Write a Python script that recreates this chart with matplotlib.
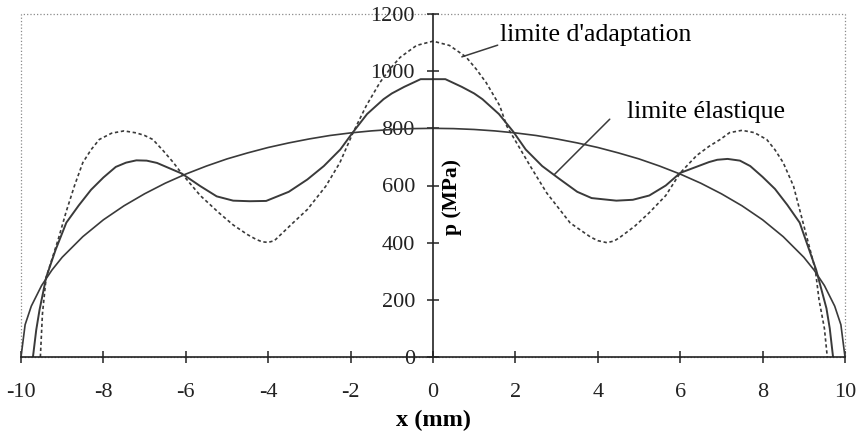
import numpy as np
import matplotlib.pyplot as plt
from matplotlib.patches import Rectangle

plt.rcParams['font.family'] = ['Liberation Serif', 'DejaVu Serif']
plt.rcParams['axes.unicode_minus'] = False

# Hertz pressure (smooth curve, no label)
hertz_x = [-10, -9.9, -9.75, -9.5, -9.25, -9, -8.5, -8, -7.5, -7, -6.5, -6, -5.5, -5,
           -4.5, -4, -3.5, -3, -2.5, -2, -1.5, -1, -0.5, 0, 0.5, 1, 1.5, 2, 2.5, 3,
           3.5, 4, 4.5, 5, 5.5, 6, 6.5, 7, 7.5, 8, 8.5, 9, 9.25, 9.5, 9.75, 9.9, 10]
hertz_p = [0, 113, 178, 250, 304, 349, 421, 480, 529, 571, 608, 640, 668, 693,
           714, 733, 749, 763, 775, 784, 791, 796, 799, 800, 799, 796, 791, 784, 775, 763,
           749, 733, 714, 693, 668, 640, 608, 571, 529, 480, 421, 349, 304, 250, 178, 113, 0]

# limite elastique (solid wavy)
elas_x = [-9.71, -9.63, -9.55, -9.39, -9.16, -8.9, -8.6, -8.3, -8.0, -7.7, -7.45, -7.2,
          -6.95, -6.7, -6.1, -5.65, -5.25, -4.85, -4.45, -4.05, -3.5, -3.05, -2.65, -2.25,
          -1.95, -1.6, -1.2, -1.0, -0.7, -0.3, 0, 0.3, 0.7, 1.0, 1.2, 1.6, 1.95, 2.25, 2.65,
          3.05, 3.5, 3.85, 4.45, 4.85, 5.25, 5.65, 6.0, 6.7, 6.9, 7.15, 7.45, 7.7, 8.0, 8.3,
          8.6, 8.9, 9.3, 9.55, 9.63, 9.71]
elas_p = [0, 95, 165, 278, 375, 470, 530, 585, 628, 665, 680, 688,
          687, 679, 642, 598, 562, 547, 545, 546, 578, 621, 668, 726,
          785, 850, 902, 922, 945, 972, 972, 972, 945, 922, 902, 850, 788, 726, 668,
          625, 578, 556, 547, 550, 565, 600, 644, 682, 690, 693, 687, 668, 630, 588,
          532, 470, 305, 170, 100, 0]

# limite d'adaptation (dashed wavy)
adapt_x = [-9.53, -9.48, -9.39, -9.1, -8.9, -8.7, -8.5, -8.3, -8.1, -7.8, -7.5, -7.2,
           -7.0, -6.8, -6.55, -6.3, -6.1, -5.65, -5.2, -4.85, -4.5, -4.3, -4.15, -4.0,
           -3.85, -3.4, -3.05, -2.6, -2.26, -1.94, -1.62, -1.29, -1.05, -0.8, -0.4, 0,
           0.4, 0.8, 1.05, 1.29, 1.62, 1.79, 2.36, 2.76, 3.33, 3.82, 4.0, 4.22, 4.4, 4.55,
           4.9, 5.25, 5.65, 6.0, 6.4, 6.7, 6.97, 7.2, 7.5, 7.8, 8.1, 8.3, 8.5, 8.75,
           9.0, 9.28, 9.37, 9.5, 9.57]
adapt_p = [0, 150, 278, 410, 510, 600, 680, 725, 761, 783, 791, 784,
           775, 761, 722, 680, 642, 565, 505, 462, 428, 412, 403, 401,
           407, 469, 516, 598, 680, 785, 879, 960, 1007, 1048, 1090, 1105,
           1090, 1050, 1007, 960, 879, 808, 668, 574, 469, 420, 407, 400, 406, 420,
           458, 505, 565, 644, 705, 737, 761, 785, 793, 785, 761, 725, 680, 598,
           460, 305, 200, 100, 0]

fig = plt.figure(figsize=(8.61, 4.33), dpi=100)
ax = fig.add_axes([21/861, 1-357/433, (845-21)/861, (357-14)/433])

line_col = '#3a3a3a'
ax.plot(hertz_x, hertz_p, color=line_col, lw=1.2)
ax.plot(elas_x, elas_p, color=line_col, lw=1.4)
ax.plot(adapt_x, adapt_p, color=line_col, lw=1.2, linestyle=(0, (2, 1.6)))

ax.set_xlim(-10, 10)
ax.set_ylim(0, 1200)
ax.set_xticks(np.arange(-10, 11, 2))
ax.set_yticks(np.arange(0, 1201, 200))

# axes crossing at the origin
ax.spines['left'].set_position(('data', 0))
ax.spines['bottom'].set_position(('data', 0))
for s in ['left', 'bottom']:
    ax.spines[s].set_color('#222222')
    ax.spines[s].set_linewidth(1.2)
for s in ['top', 'right']:
    ax.spines[s].set_visible(False)

# dotted plot-area frame
ax.add_patch(Rectangle((0, 0), 1, 1, transform=ax.transAxes, fill=False,
                       edgecolor='#8a8a8a', linestyle=':', lw=0.9, clip_on=False))

ax.tick_params(axis='both', direction='inout', length=8, width=1.1,
               colors='#222222', labelsize=16)
ax.tick_params(axis='x', pad=15)
ax.tick_params(axis='y', pad=9)

ax.set_xlabel('x (mm)', fontsize=17.5, fontweight='bold')
ax.xaxis.set_label_coords(0.5, -0.155)
ax.text(0.47, 561, 'p (MPa)', rotation=90, ha='center', va='center',
        fontsize=15.5, fontweight='bold')

# labels with leader lines
ax.text(1.62, 1128, "limite d'adaptation", fontsize=18.5, ha='left', va='center')
ax.annotate('', xy=(0.7, 1050), xytext=(1.57, 1091),
            arrowprops=dict(arrowstyle='-', color=line_col, lw=1.1, shrinkA=0, shrinkB=0))
ax.text(4.71, 856, 'limite élastique', fontsize=18.5, ha='left', va='center')
ax.annotate('', xy=(2.95, 639), xytext=(4.29, 832),
            arrowprops=dict(arrowstyle='-', color=line_col, lw=1.1, shrinkA=0, shrinkB=0))

fig.savefig('out.png', dpi=100)
